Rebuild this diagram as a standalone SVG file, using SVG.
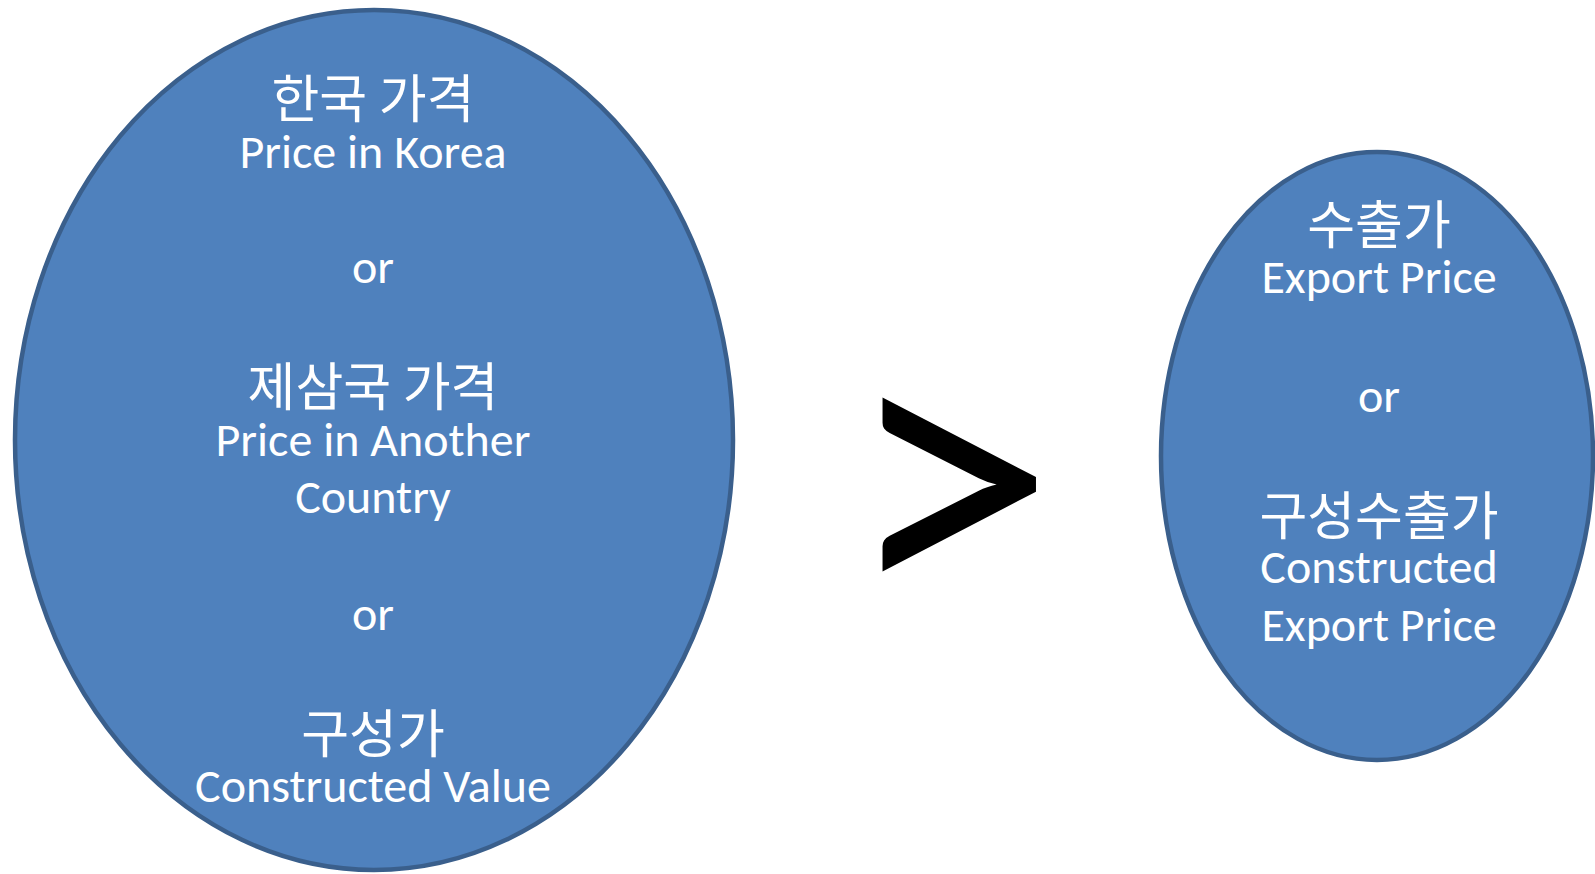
<svg xmlns="http://www.w3.org/2000/svg" width="1595" height="874" viewBox="0 0 1595 874">
<style>
.node{fill:#4F81BD;stroke:#3A5F8C;stroke-width:4.5}
.ko{font-family:"Noto Sans CJK KR","Noto Sans CJK SC",sans-serif;font-size:52px;fill:#FFFFFF;text-anchor:middle}
.en{font-family:Carlito,Lato,"Liberation Sans",sans-serif;font-size:48px;fill:#FFFFFF;text-anchor:middle}
.gt{font-family:Lato,"Liberation Sans",sans-serif;font-size:397px;fill:#000000;text-anchor:middle}
</style>
<rect width="1595" height="874" fill="#FFFFFF"/>
<g id="normal-value">
<ellipse class="node" cx="374" cy="440" rx="359" ry="430"/>
<text class="ko" x="373" y="118">한국 가격</text>
<text class="en" x="373" y="168">Price in Korea</text>
<text class="en" x="373" y="283">or</text>
<text class="ko" x="373" y="406">제삼국 가격</text>
<text class="en" x="373" y="456">Price in Another</text>
<text class="en" x="373" y="513">Country</text>
<text class="en" x="373" y="630">or</text>
<text class="ko" x="373" y="753">구성가</text>
<text class="en" x="373" y="802">Constructed Value</text>
</g>
<g id="comparison">
<text class="gt" x="953" y="618">&gt;</text>
</g>
<g id="export-price">
<ellipse class="node" cx="1377" cy="456" rx="216" ry="304"/>
<text class="ko" x="1379" y="244">수출가</text>
<text class="en" x="1379" y="293">Export Price</text>
<text class="en" x="1379" y="412">or</text>
<text class="ko" x="1379" y="535">구성수출가</text>
<text class="en" x="1379" y="583">Constructed</text>
<text class="en" x="1379" y="641">Export Price</text>
</g>
<g id="connectors"/>
</svg>
